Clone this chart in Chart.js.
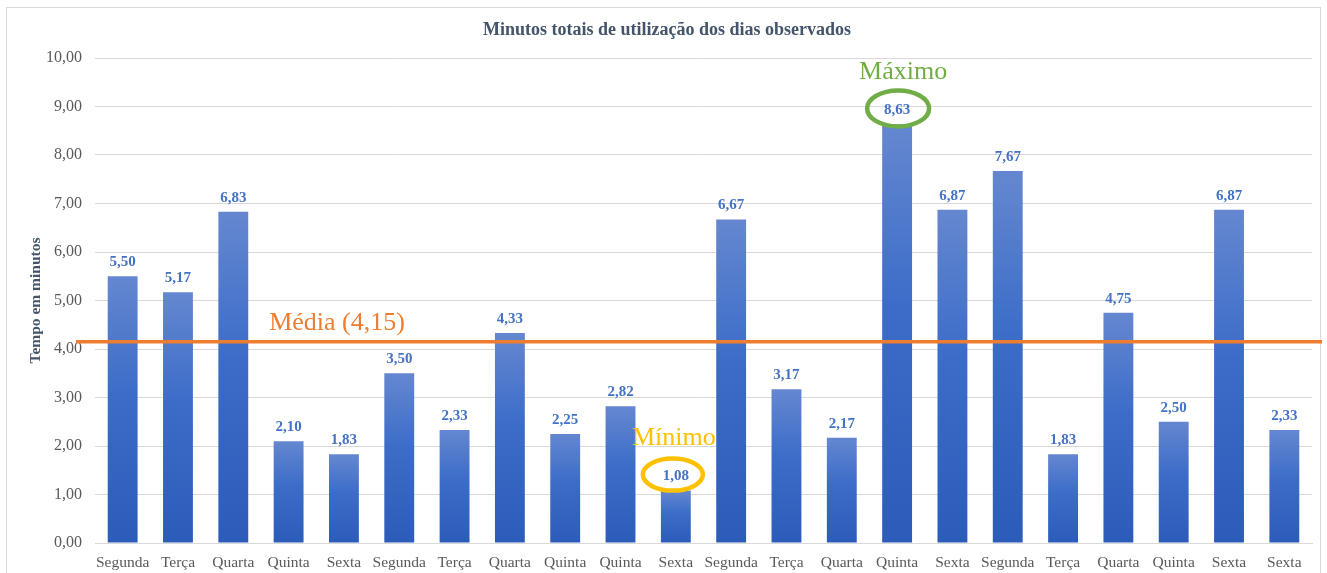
<!DOCTYPE html>
<html><head><meta charset="utf-8">
<script src="https://cdn.jsdelivr.net/npm/chart.js@4.4.1/dist/chart.umd.min.js"></script>
<style>html,body{margin:0;padding:0;background:#fff}#wrap{width:1327px;height:573px;position:relative}</style>
</head><body><div id="wrap"><canvas id="c" width="1327" height="573"></canvas></div>
<script>
const categories = ["Segunda","Terça","Quarta","Quinta","Sexta","Segunda","Terça","Quarta","Quinta","Quinta","Sexta","Segunda","Terça","Quarta","Quinta","Sexta","Segunda","Terça","Quarta","Quinta","Sexta","Sexta"];
const minutes = [5.50,5.17,6.83,2.10,1.83,3.50,2.33,4.33,2.25,2.82,1.08,6.67,3.17,2.17,8.63,6.87,7.67,1.83,4.75,2.50,6.87,2.33];
const meanValue = 4.15;
const meanLabel = "Média (4,15)";
const minIndex = 10, minLabel = "Mínimo";
const maxIndex = 14, maxLabel = "Máximo";
const chartTitle = "Minutos totais de utilização dos dias observados";
const yTitle = "Tempo em minutos";

const SERIF = "'Liberation Serif','Times New Roman',serif";
const fmt = v => v.toFixed(2).replace('.', ',');

function barGradient(ctx) {
  const chart = ctx.chart;
  const ys = chart.scales && chart.scales.y;
  if (!chart.chartArea || !ys || ctx.type !== 'data') return '#3d6fc9';
  const top = ys.getPixelForValue(ctx.raw);
  const bot = ys.getPixelForValue(0);
  if (!isFinite(top) || !isFinite(bot) || bot - top < 1) return '#3d6fc9';
  const g = chart.ctx.createLinearGradient(0, top, 0, bot);
  g.addColorStop(0, '#6587d0');
  g.addColorStop(0.45, '#3a6cc8');
  g.addColorStop(1, '#2c5cb9');
  return g;
}

const overlay = {
  id: 'overlay',
  beforeDraw(chart) {
    const c = chart.ctx;
    c.save();
    c.strokeStyle = '#d9d9d9'; c.lineWidth = 1;
    c.strokeRect(6.5, 7.5, 1314, 575);
    c.restore();
  },
  afterDatasetsDraw(chart) {
    const c = chart.ctx, xs = chart.scales.x, ys = chart.scales.y, a = chart.chartArea;
    c.save();
    // title
    c.fillStyle = '#44546a';
    c.font = "bold 18px " + SERIF;
    c.textAlign = 'center'; c.textBaseline = 'middle';
    c.fillText(chartTitle, 667, 30);
    // data labels
    c.font = "bold 15px " + SERIF;
    c.fillStyle = '#4472c4';
    minutes.forEach((v, i) => {
      c.fillText(fmt(v), xs.getPixelForValue(i), ys.getPixelForValue(v) - 14);
    });
    // mean line
    const my = ys.getPixelForValue(meanValue);
    c.strokeStyle = '#ed7d31'; c.lineWidth = 3.5;
    c.beginPath(); c.moveTo(76, my); c.lineTo(1322, my); c.stroke();
    c.fillStyle = '#ed7d31';
    c.font = "26px " + SERIF;
    c.fillText(meanLabel, 337, my - 19);
    // min
    const mnx = xs.getPixelForValue(minIndex), mny = ys.getPixelForValue(minutes[minIndex]) - 14;
    c.strokeStyle = '#ffc000'; c.lineWidth = 4.5;
    c.beginPath(); c.ellipse(mnx - 3, mny - 2, 30, 16, 0, 0, Math.PI * 2); c.stroke();
    c.fillStyle = '#ffc000';
    c.fillText(minLabel, mnx - 2, mny - 38);
    // max
    const mxx = xs.getPixelForValue(maxIndex), mxy = ys.getPixelForValue(minutes[maxIndex]) - 14;
    c.strokeStyle = '#70ad47';
    c.beginPath(); c.ellipse(mxx + 1, mxy - 2, 31, 18, 0, 0, Math.PI * 2); c.stroke();
    c.fillStyle = '#70ad47';
    c.fillText(maxLabel, mxx + 6, mxy - 38);
    c.restore();
  }
};

new Chart(document.getElementById('c'), {
  type: 'bar',
  data: {
    labels: categories,
    datasets: [{
      data: minutes,
      backgroundColor: barGradient,
      barPercentage: 0.54,
      categoryPercentage: 1.0
    }]
  },
  options: {
    responsive: false,
    animation: false,
    devicePixelRatio: 1,
    layout: { padding: { top: 58, left: 0, right: 15, bottom: 0 } },
    plugins: { legend: { display: false }, tooltip: { enabled: false }, title: { display: false } },
    scales: {
      x: {
        grid: { display: false, drawTicks: false },
        border: { display: true, color: '#d9d9d9', width: 1 },
        ticks: { color: '#595959', font: { family: SERIF, size: 15.5 }, padding: 11, maxRotation: 0, autoSkip: false },
        afterFit(s) { s.height = 30; }
      },
      y: {
        min: 0, max: 10,
        ticks: { stepSize: 1, color: '#595959', font: { family: SERIF, size: 16 }, padding: 13, callback: v => fmt(v) },
        grid: { color: '#d9d9d9', lineWidth: 1, drawTicks: false },
        border: { display: false },
        title: { display: true, text: yTitle, color: '#44546a', font: { family: SERIF, size: 15.5, weight: 'bold' }, padding: { top: 27, bottom: 0 } },
        afterFit(s) { s.width = 95; }
      }
    }
  },
  plugins: [overlay]
});
</script></body></html>
